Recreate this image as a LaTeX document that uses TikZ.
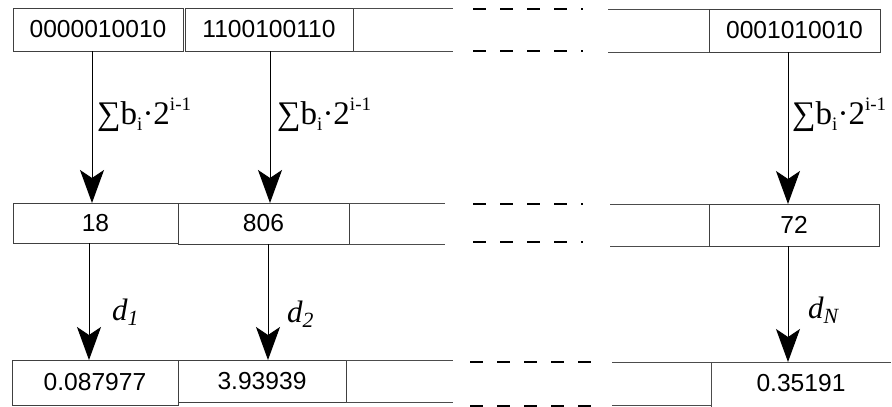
\documentclass[tikz,border=0pt]{standalone}
\usepackage{fontspec}
\setmainfont{Liberation Sans}
\newfontfamily\serif{Liberation Serif}
\usetikzlibrary{arrows.meta}
% sum of bits label, small indices
\newcommand{\smallidx}{\fontsize{19}{19}\selectfont}
\newcommand{\bitsum}{∑b\raisebox{-0.2em}{\smallidx i}·2\raisebox{0.4em}{\smallidx i-1}}

\begin{document}
\begin{tikzpicture}[x=1pt,y=-1pt,
  cell/.style={draw=black!75, line width=1pt, inner sep=0pt, outer sep=0pt,
    font=\fontsize{24.6}{28}\selectfont},
  rail/.style={draw=black!70, line width=1pt},
  gap/.style={line width=2pt, dash pattern=on 13pt off 14pt},
  arr/.style={line width=1pt, -{Stealth[length=33pt,width=24pt,inset=8pt]}},
  sumlbl/.style={anchor=base west, inner sep=0pt, font=\serif\fontsize{33}{36}\selectfont},
  dlbl/.style={anchor=base west, inner sep=0pt, font=\serif\itshape\fontsize{31}{36}\selectfont}]
\useasboundingbox (0,0) rectangle (892,407);
% binary strings
\node[cell, minimum width=170, minimum height=43] (bin1) at (98,29.5) {0000010010};
\node[cell, minimum width=168, minimum height=43] (bin2) at (269,29.5) {1100100110};
\node[cell, minimum width=171, minimum height=43] (binN) at (794.5,30.5) {0001010010};
\draw[rail] (bin2.north east) -- ++(100,0);
\draw[rail] (bin2.south east) -- ++(100,0);
\draw[gap] (473,9) -- (583,9);
\draw[gap] (473,51) -- (583,51);
\draw[rail] (binN.north west) -- ++(-101,0);
\draw[rail] (binN.south west) -- ++(-101,0);
% integers
\node[cell, minimum width=165, minimum height=40] (int1) at (95.5,223) {18};
\node[cell, minimum width=171, minimum height=41] (int2) at (263.5,223.5) {806};
\node[cell, minimum width=170, minimum height=42] (intN) at (794,225) {72};
\draw[rail] (int2.north east) -- ++(96,0);
\draw[rail] (int2.south east) -- ++(96,0);
\draw[gap] (473,204) -- (583,204);
\draw[gap] (473,242) -- (583,242);
\draw[rail] (intN.north west) -- ++(-99,0);
\draw[rail] (intN.south west) -- ++(-99,0);
% reals
\node[cell, minimum width=166, minimum height=45] (real1) at (95,382.5) {0.087977};
\node[cell, minimum width=168, minimum height=42] (real2) at (262,381) {3.93939};
\node[cell, draw=none, minimum width=180, minimum height=43] (realN) at (801,383.5) {0.35191};
\draw[rail] ([yshift=-3]realN.south west) -- (realN.north west) -- (realN.north east);
\draw[rail] (real2.north east) -- ++(107,0);
\draw[rail] (real2.south east) -- ++(107,0);
\draw[gap] (470,362) -- (597,362);
\draw[gap] (470,406) -- (597,406);
\draw[rail] (realN.north west) -- ++(-99,0);
\draw[rail] (realN.south west) -- ++(-99,0);
% decoding
\draw[arr] ([xshift=-6]bin1.south) -- ([xshift=-3.5]int1.north);
\draw[arr] ([xshift=1]bin2.south) -- ([xshift=6.5]int2.north);
\draw[arr] ([xshift=-6.5]binN.south) -- ([xshift=-6]intN.north);
\node[sumlbl] (sum1) at (97,124) {\bitsum};
\node[sumlbl] (sum2) at (277,124) {\bitsum};
\node[sumlbl] (sumN) at (792,124) {\bitsum};
% scaling
\draw[arr] ([xshift=-6.5]int1.south) -- ([xshift=-6]real1.north);
\draw[arr] ([xshift=4.5]int2.south) -- ([xshift=6]real2.north);
\draw[arr] ([xshift=-6]intN.south) -- ([xshift=-13]realN.north);
\node[dlbl] (d1) at (112,320) {d\textsubscript{1}};
\node[dlbl] (d2) at (287,322) {d\textsubscript{2}};
\node[dlbl] (dN) at (808,318) {d\textsubscript{N}};
\end{tikzpicture}
\end{document}
